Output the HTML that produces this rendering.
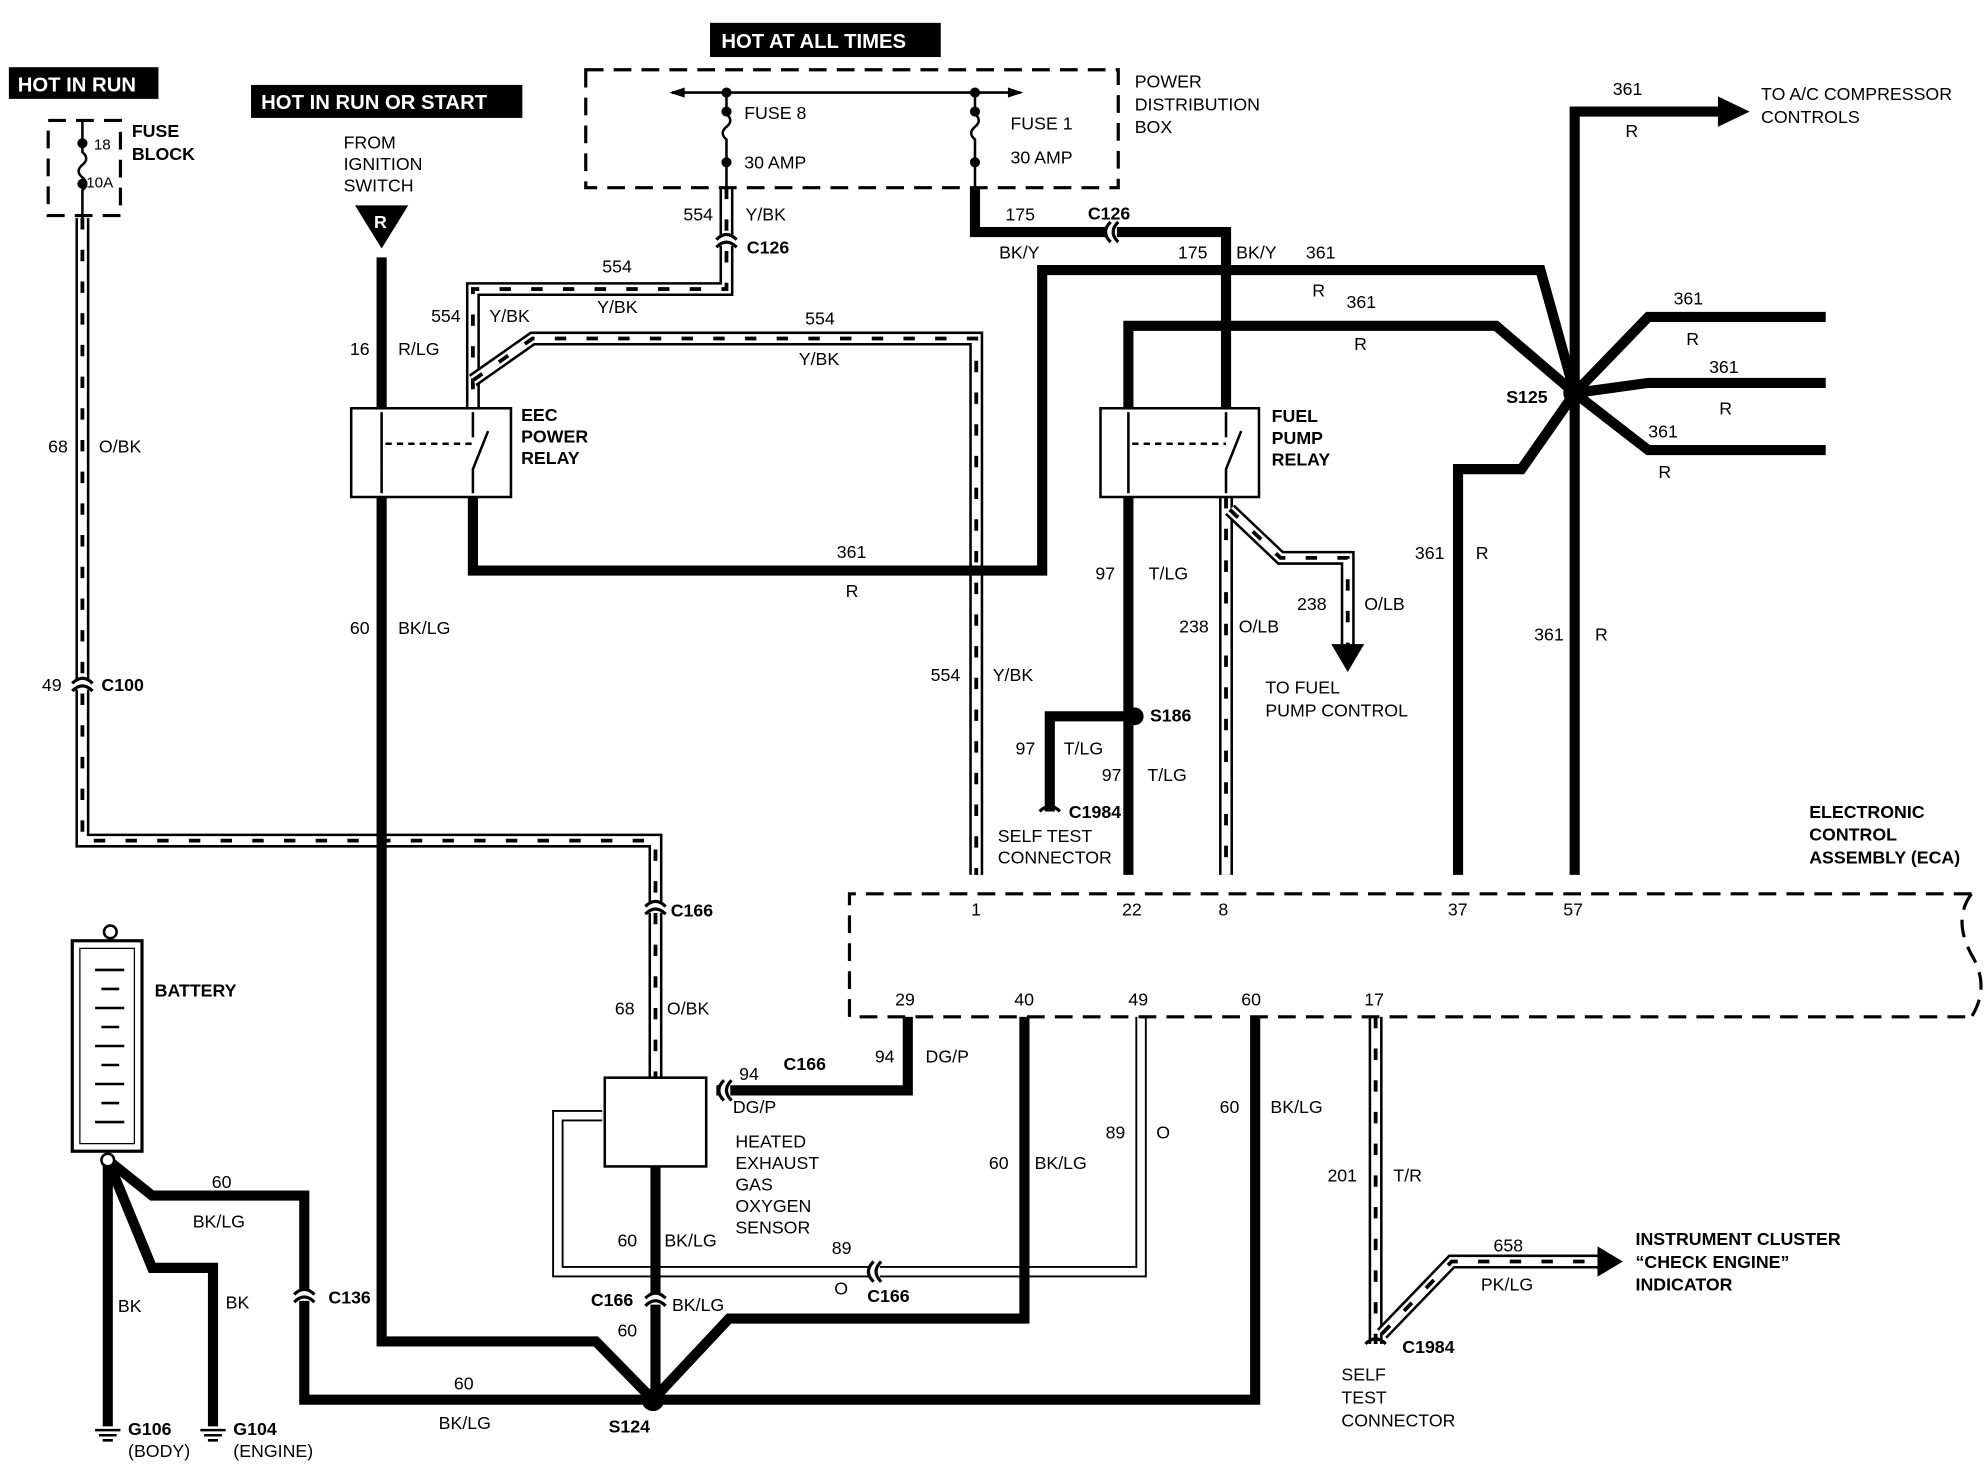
<!DOCTYPE html>
<html><head><meta charset="utf-8"><style>
html,body{margin:0;padding:0;background:#fff;}
svg{display:block;}
text{font-family:"Liberation Sans",Arial,sans-serif;font-size:14px;fill:#000;}
.b{font-weight:bold;}
.w{fill:#fff;font-weight:bold;font-size:16px;}
.t{fill:none;stroke:#000;stroke-width:8;stroke-linejoin:miter;}
.so{fill:none;stroke:#000;stroke-width:11;}
.si{fill:none;stroke:#fff;stroke-width:7;}
.sd{fill:none;stroke:#000;stroke-width:3;stroke-dasharray:9 16;}
.dash{fill:none;stroke:#000;stroke-width:2.5;stroke-dasharray:14 8;}
.thin{fill:none;stroke:#000;stroke-width:2;}
.cn{fill:none;stroke:#000;stroke-width:2.5;}
</style></head><body>
<svg width="1988" height="1472" viewBox="0 0 1568 1161" xmlns="http://www.w3.org/2000/svg">
<defs>
<path id="s68" d="M65 172 V663 H517 V850"/>
<path id="s554a" d="M573 148 V228 H373 V322"/>
<path id="s554b" d="M373 300 L420 267 H770 V690"/>
<path id="s238" d="M967 392 V690"/>
<path id="s238b" d="M970 402 L1010 440 H1063 V510"/>
<path id="s17" d="M1085 802 V1060"/>
<path id="s658" d="M1090 1052 L1145 995 H1265"/>
<g id="cv"><rect x="-8" y="-4" width="16" height="8" fill="#fff"/><path d="M-8 -1 q8 -8 16 0 M-8 5 q8 -8 16 0" class="cn"/></g>
<g id="ch"><rect x="-4" y="-8" width="8" height="16" fill="#fff"/><path d="M-1 -8 q-8 8 0 16 M5 -8 q-8 8 0 16" class="cn"/></g>
</defs>
<g>
<use href="#s68" class="so"/><use href="#s68" class="si"/><use href="#s68" class="sd"/>
<use href="#s554a" class="so"/><use href="#s554a" class="si"/><use href="#s554a" class="sd"/>
<use href="#s554b" class="so"/><use href="#s554b" class="si"/><use href="#s554b" class="sd"/>
<use href="#s238" class="so"/><use href="#s238" class="si"/><use href="#s238" class="sd"/>
<use href="#s238b" class="so"/><use href="#s238b" class="si"/><use href="#s238b" class="sd"/>
<use href="#s17" class="so"/><use href="#s17" class="si"/><use href="#s17" class="sd"/>
<use href="#s658" class="so"/><use href="#s658" class="si"/><use href="#s658" class="sd"/>
</g>
<path d="M900 802 V1003 H440 V880 H475" fill="none" stroke="#000" stroke-width="9"/>
<path d="M900 802 V1003 H440 V880 H475" fill="none" stroke="#fff" stroke-width="6"/>
<g class="t">
<path d="M301 203 V322"/>
<path d="M301 392 V1058 H470 L515 1104"/>
<path d="M373 392 V450 H822 V213 H1215 L1242 310"/>
<path d="M769 148 V183 H967 V322"/>
<path d="M890 322 V257 H1180 L1242 310"/>
<path d="M1242 310 V88 H1360"/>
<path d="M1242 310 L1300 250 H1440"/>
<path d="M1242 310 L1300 302 H1440"/>
<path d="M1242 310 L1300 355 H1440"/>
<path d="M1242 310 L1200 370 H1150 V690"/>
<path d="M1242 310 V690"/>
<path d="M890 392 V690"/>
<path d="M895 565 H828 V640"/>
<path d="M716 802 V860 H565"/>
<path d="M808 802 V1040 H575 L515 1104"/>
<path d="M990 802 V1104 H515"/>
<path d="M517 920 V1104"/>
<path d="M85 915 V1125"/>
<path d="M85 915 L120 1000 H168 V1125"/>
<path d="M85 915 L120 943 H240 V1104 H515"/>
</g>
<!-- connectors -->
<use href="#cv" x="65" y="540"/><use href="#cv" x="573" y="190"/><use href="#ch" x="877" y="183"/>
<use href="#cv" x="517" y="716"/><use href="#ch" x="572" y="860"/><use href="#ch" x="690" y="1003"/>
<use href="#cv" x="517" y="1025"/><use href="#cv" x="240" y="1022"/>
<path d="M820 640 q8 -8 16 0" class="cn"/><path d="M1077 1060 q8 -8 16 0" class="cn"/>
<polygon points="1355,76 1380,88 1355,100" fill="#000"/>
<polygon points="1050,508 1076,508 1063,530" fill="#000"/>
<polygon points="1260,983 1280,995 1260,1007" fill="#000"/>
<circle cx="1242" cy="310" r="9" fill="#000"/>
<circle cx="895" cy="565" r="7" fill="#000"/>
<circle cx="515" cy="1104" r="9" fill="#000"/>
<rect x="7" y="53" width="118" height="25" fill="#000"/><text x="14" y="72" class="w">HOT IN RUN</text>
<rect x="198" y="67" width="214" height="26" fill="#000"/><text x="206" y="86" class="w">HOT IN RUN OR START</text>
<rect x="560" y="18" width="182" height="27" fill="#000"/><text x="569" y="38" class="w">HOT AT ALL TIMES</text>
<rect x="38" y="95" width="57" height="75" class="dash"/>
<path d="M65 95 V120 q6 5 0 10 q-6 5 0 10 q6 5 0 10 V172" class="thin"/>
<circle cx="65" cy="113" r="4"/><circle cx="65" cy="145" r="4"/>
<text x="74" y="118" style="font-size:12px">18</text><text x="68" y="148" style="font-size:12px">10A</text>
<text x="104" y="108" class="b">FUSE</text><text x="104" y="126" class="b">BLOCK</text>
<rect x="462" y="55" width="420" height="93" class="dash"/>
<path d="M530 73 H805" class="thin"/>
<polygon points="528,73 540,69 540,77"/><polygon points="807,73 795,69 795,77"/>
<path d="M573 73 V90 q6 5 0 10 q-6 5 0 10 V148" class="thin"/><circle cx="573" cy="73" r="4"/><circle cx="573" cy="88" r="4"/><circle cx="573" cy="128" r="4"/>
<path d="M769 73 V90 q6 5 0 10 q-6 5 0 10 V148" class="thin"/><circle cx="769" cy="73" r="4"/><circle cx="769" cy="88" r="4"/><circle cx="769" cy="128" r="4"/>
<text x="587" y="94">FUSE 8</text><text x="587" y="133">30 AMP</text>
<text x="797" y="102">FUSE 1</text><text x="797" y="129">30 AMP</text>
<text x="895" y="69">POWER</text><text x="895" y="87">DISTRIBUTION</text><text x="895" y="105">BOX</text>
<text x="271" y="117">FROM</text><text x="271" y="134">IGNITION</text><text x="271" y="151">SWITCH</text>
<polygon points="280,162 322,162 301,196" fill="#000"/><text x="295" y="180" class="w" style="font-size:14px">R</text>
<rect x="277" y="322" width="126" height="70" fill="#fff" stroke="#000" stroke-width="2"/>
<path d="M301 325 V389 M373 325 V345 M373 389 V370 L385 340" class="thin"/>
<path d="M304 350 H373" class="thin" stroke-dasharray="5 4"/>
<text x="411" y="332" class="b">EEC</text><text x="411" y="349" class="b">POWER</text><text x="411" y="366" class="b">RELAY</text>
<rect x="868" y="322" width="125" height="70" fill="#fff" stroke="#000" stroke-width="2"/>
<path d="M890 325 V389 M967 325 V345 M967 389 V370 L979 340" class="thin"/>
<path d="M893 350 H967" class="thin" stroke-dasharray="5 4"/>
<text x="1003" y="333" class="b">FUEL</text><text x="1003" y="350" class="b">PUMP</text><text x="1003" y="367" class="b">RELAY</text>
<path d="M1555 705 H670 V802 H1555" class="dash"/>
<path d="M1555 705 q-15 20 0 48 q15 25 0 49" class="dash"/>
<text x="1427" y="645" class="b">ELECTRONIC</text><text x="1427" y="663" class="b">CONTROL</text><text x="1427" y="681" class="b">ASSEMBLY (ECA)</text>
<text x="766" y="722">1</text><text x="885" y="722">22</text><text x="961" y="722">8</text><text x="1142" y="722">37</text><text x="1233" y="722">57</text>
<text x="706" y="793">29</text><text x="800" y="793">40</text><text x="890" y="793">49</text><text x="979" y="793">60</text><text x="1076" y="793">17</text>
<rect x="477" y="850" width="80" height="70" fill="#fff" stroke="#000" stroke-width="2"/>
<text x="580" y="905">HEATED</text><text x="580" y="922">EXHAUST</text><text x="580" y="939">GAS</text><text x="580" y="956">OXYGEN</text><text x="580" y="973">SENSOR</text>
<circle cx="87" cy="735" r="5" fill="#fff" stroke="#000" stroke-width="2"/>
<rect x="57" y="742" width="55" height="166" fill="#fff" stroke="#000" stroke-width="2.5"/>
<rect x="63" y="748" width="43" height="154" fill="none" stroke="#000" stroke-width="1"/>
<path d="M75 765 H98 M80 780 H94 M75 795 H98 M80 810 H94 M75 825 H98 M80 840 H94 M75 855 H98 M80 870 H94 M75 885 H98" class="thin" stroke-width="1.2"/>
<circle cx="85" cy="915" r="5" fill="#fff" stroke="#000" stroke-width="2"/>
<text x="122" y="786" class="b">BATTERY</text>
<path d="M75 1128 H95 M78 1132 H92 M81 1136 H89" class="thin"/><path d="M158 1128 H178 M161 1132 H175 M164 1136 H172" class="thin"/>
<text x="101" y="1132" class="b">G106</text><text x="101" y="1149">(BODY)</text>
<text x="184" y="1132" class="b">G104</text><text x="184" y="1149">(ENGINE)</text>
<text x="38" y="357">68</text><text x="78" y="357">O/BK</text>
<text x="33" y="545">49</text><text x="80" y="545" class="b">C100</text>
<text x="276" y="280">16</text><text x="314" y="280">R/LG</text>
<text x="539" y="174">554</text><text x="588" y="174">Y/BK</text><text x="589" y="200" class="b">C126</text>
<text x="475" y="215">554</text><text x="471" y="247">Y/BK</text>
<text x="340" y="254">554</text><text x="386" y="254">Y/BK</text>
<text x="635" y="256">554</text><text x="630" y="288">Y/BK</text>
<text x="793" y="174">175</text><text x="788" y="204">BK/Y</text><text x="858" y="173" class="b">C126</text>
<text x="929" y="204">175</text><text x="975" y="204">BK/Y</text>
<text x="1030" y="204">361</text><text x="1035" y="234">R</text>
<text x="1062" y="243">361</text><text x="1068" y="276">R</text>
<text x="1272" y="75">361</text><text x="1282" y="108">R</text>
<text x="1389" y="79">TO A/C COMPRESSOR</text><text x="1389" y="97">CONTROLS</text>
<text x="1320" y="240">361</text><text x="1330" y="272">R</text>
<text x="1348" y="294">361</text><text x="1356" y="327">R</text>
<text x="1300" y="345">361</text><text x="1308" y="377">R</text>
<text x="1188" y="318" class="b">S125</text>
<text x="660" y="440">361</text><text x="667" y="471">R</text>
<text x="1116" y="441">361</text><text x="1164" y="441">R</text>
<text x="1210" y="505">361</text><text x="1258" y="505">R</text>
<text x="276" y="500">60</text><text x="314" y="500">BK/LG</text>
<text x="864" y="457">97</text><text x="906" y="457">T/LG</text>
<text x="930" y="499">238</text><text x="977" y="499">O/LB</text>
<text x="1023" y="481">238</text><text x="1076" y="481">O/LB</text>
<text x="998" y="547">TO FUEL</text><text x="998" y="565">PUMP CONTROL</text>
<text x="734" y="537">554</text><text x="783" y="537">Y/BK</text>
<text x="907" y="569" class="b">S186</text>
<text x="801" y="595">97</text><text x="839" y="595">T/LG</text>
<text x="869" y="616">97</text><text x="905" y="616">T/LG</text>
<text x="843" y="645" class="b">C1984</text>
<text x="787" y="664">SELF TEST</text><text x="787" y="681">CONNECTOR</text>
<text x="529" y="723" class="b">C166</text>
<text x="485" y="800">68</text><text x="526" y="800">O/BK</text>
<text x="583" y="852">94</text><text x="578" y="878">DG/P</text><text x="618" y="844" class="b">C166</text>
<text x="690" y="838">94</text><text x="730" y="838">DG/P</text>
<text x="780" y="922">60</text><text x="816" y="922">BK/LG</text>
<text x="872" y="898">89</text><text x="912" y="898">O</text>
<text x="962" y="878">60</text><text x="1002" y="878">BK/LG</text>
<text x="1047" y="932">201</text><text x="1099" y="932">T/R</text>
<text x="1178" y="987">658</text><text x="1168" y="1018">PK/LG</text>
<text x="1290" y="982" class="b">INSTRUMENT CLUSTER</text><text x="1290" y="1000" class="b">“CHECK ENGINE”</text><text x="1290" y="1018" class="b">INDICATOR</text>
<text x="1106" y="1067" class="b">C1984</text>
<text x="1058" y="1089">SELF</text><text x="1058" y="1107">TEST</text><text x="1058" y="1125">CONNECTOR</text>
<text x="487" y="983">60</text><text x="524" y="983">BK/LG</text>
<text x="656" y="989">89</text><text x="658" y="1021">O</text><text x="684" y="1027" class="b">C166</text>
<text x="466" y="1030" class="b">C166</text><text x="530" y="1034">BK/LG</text><text x="487" y="1054">60</text>
<text x="167" y="937">60</text><text x="152" y="968">BK/LG</text>
<text x="93" y="1035">BK</text><text x="178" y="1032">BK</text>
<text x="259" y="1028" class="b">C136</text>
<text x="358" y="1096">60</text><text x="346" y="1127">BK/LG</text>
<text x="480" y="1130" class="b">S124</text>
</svg>
</body></html>
